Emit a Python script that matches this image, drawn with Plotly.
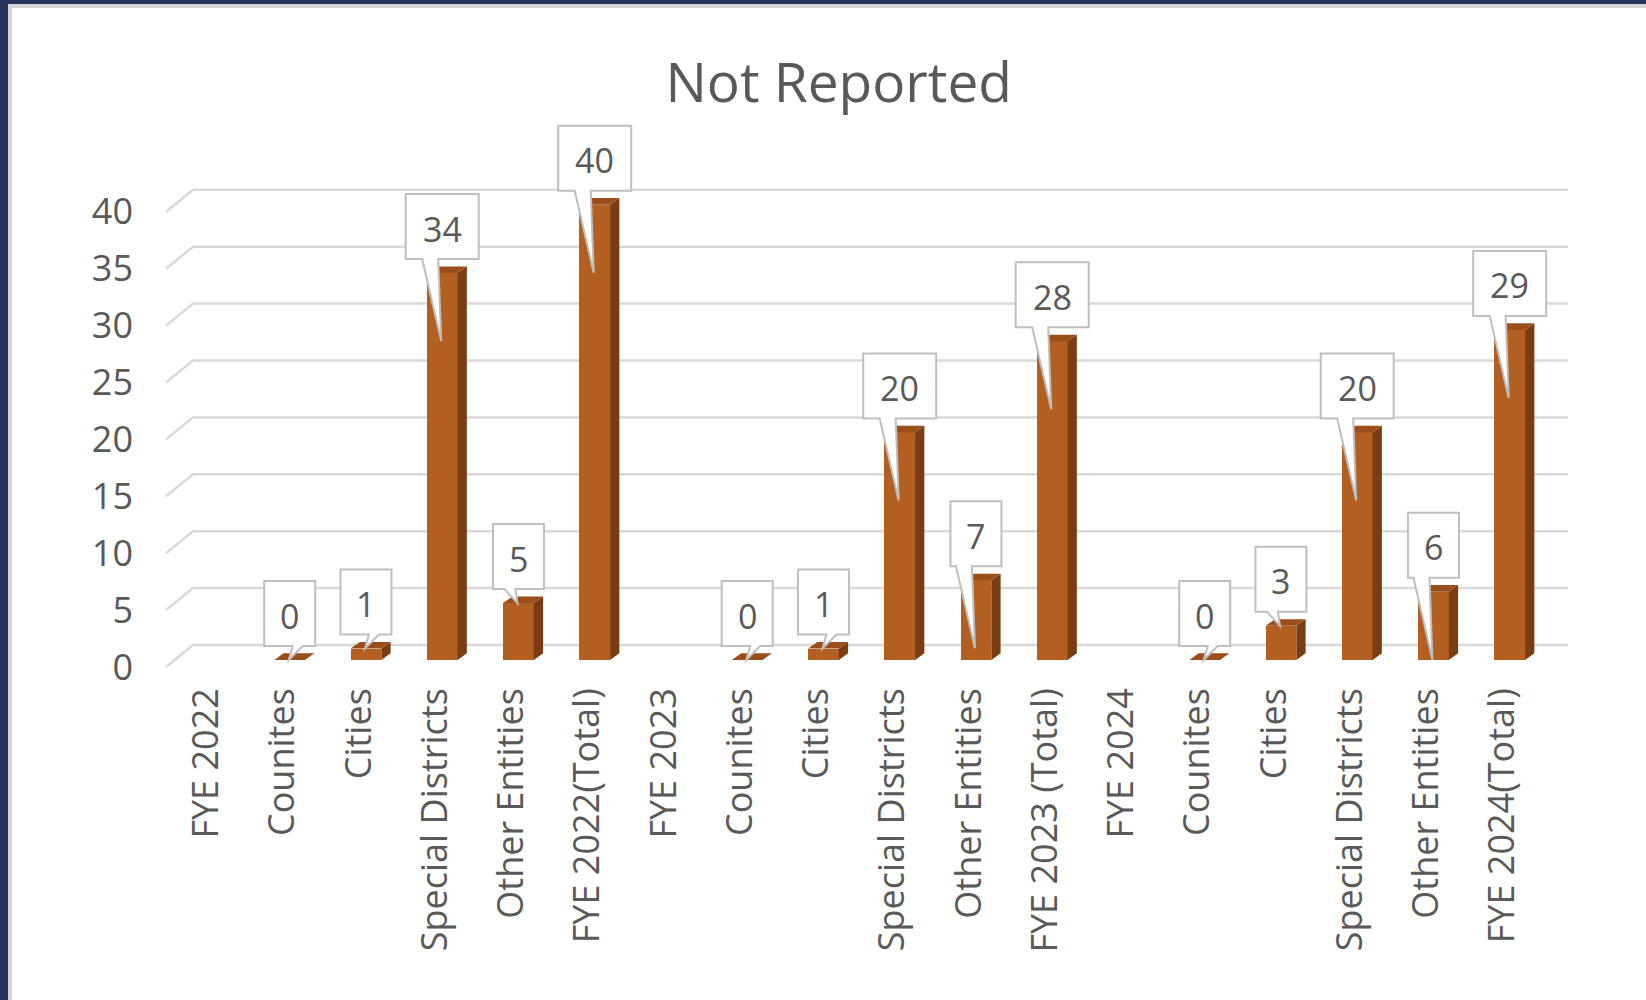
import plotly.graph_objects as go

# ---------------- data ----------------
categories = ["FYE 2022", "Counites", "Cities", "Special Districts", "Other Entities", "FYE 2022(Total)",
              "FYE 2023", "Counites", "Cities", "Special Districts", "Other Entities", "FYE 2023 (Total)",
              "FYE 2024", "Counites", "Cities", "Special Districts", "Other Entities", "FYE 2024(Total)"]
values = [None, 0, 1, 34, 5, 40,
          None, 0, 1, 20, 7, 28,
          None, 0, 3, 20, 6, 29]
y_ticks = [0, 5, 10, 15, 20, 25, 30, 35, 40]
title_text = "Not Reported"

# ---------------- layout geometry ----------------
W, H = 1646, 1000
ML, MR, MT, MB = 166, 78, 100, 320
PW, PH = W - ML - MR, H - MT - MB
PX_X = 76.25           # pixels per category
PX_Y = 11.38           # pixels per unit
first_center = 213.45  # pixel x of first category
zero_px = 660          # pixel y of value 0 (bar front)
x_lo = -(first_center - ML) / PX_X
x_range = [x_lo, x_lo + PW / PX_X]
y_lo = -(H - MB - zero_px) / PX_Y
y_range = [y_lo, y_lo + PH / PX_Y]

FONT = "Open Sans"
TXT = "#595959"
FRONT = "#B45F22"
TOP = "#9A4E1A"
SIDE = "#7A3D13"
GRID = "#D9D9D9"
CALLOUT_LINE = "#BFBFBF"

bar_w_px = 30.7
hw = bar_w_px / 2
dx, dy = 9.3, 6.7

xs = list(range(len(categories)))

fig = go.Figure()
fig.add_trace(go.Bar(x=xs, y=values, width=bar_w_px / PX_X,
                     marker=dict(color=FRONT, line=dict(width=0)),
                     hoverinfo="skip", showlegend=False))

shapes = []
# white panel with light border over the dark background
def px2paper_x(p):
    return (p - ML) / PW
def px2paper_y(p):
    return (H - MB - p) / PH
shapes.append(dict(type="rect", xref="paper", yref="paper",
                   x0=px2paper_x(10), x1=px2paper_x(1700),
                   y0=px2paper_y(1050), y1=px2paper_y(6),
                   fillcolor="white", line=dict(color="#D4D4D4", width=4), layer="below"))

# 3D-style gridlines (front slant + back line)
for g in y_ticks:
    shapes.append(dict(type="path", xref="paper", xsizemode="pixel", xanchor=0,
                       yref="y", ysizemode="pixel", yanchor=g,
                       path=f"M0,-7 L27,15 L{PW},15",
                       line=dict(color=GRID, width=2.5), layer="below"))

# bar top and side faces
dyd = dy / PX_Y
for i, v in zip(xs, values):
    if v is None:
        continue
    shapes.append(dict(type="path", xref="x", xsizemode="pixel", xanchor=i,
                       yref="y", ysizemode="scaled",
                       path=f"M{hw},0 L{hw+dx},{dyd} L{hw+dx},{v+dyd} L{hw},{v} Z",
                       fillcolor=SIDE, line=dict(width=0), layer="above"))
    shapes.append(dict(type="path", xref="x", xsizemode="pixel", xanchor=i,
                       yref="y", ysizemode="pixel", yanchor=v,
                       path=f"M{-hw},0 L{hw},0 L{hw+dx},{dy} L{-hw+dx},{dy} Z",
                       fillcolor=TOP, line=dict(width=0), layer="above"))

# data callouts
annotations = []
box_gap, box_h = 14, 65
for i, v in zip(xs, values):
    if v is None:
        continue
    w = 73 if v >= 10 else 51
    l, r = -w / 2, w / 2
    b, t = box_gap, box_gap + box_h
    if v >= 6:
        b0, b1, tip = -20, -4, (-1, box_gap - 82)
    elif v <= 1:
        b0, b1, tip = 3, 13, (-1, 0)
    else:
        b0, b1, tip = -14, -3, (-1, 0)
    path = (f"M{l},{b} L{b0},{b} L{tip[0]},{tip[1]} L{b1},{b} L{r},{b} "
            f"L{r},{t} L{l},{t} Z")
    shapes.append(dict(type="path", xref="x", xsizemode="pixel", xanchor=i,
                       yref="y", ysizemode="pixel", yanchor=v, path=path,
                       fillcolor="white", line=dict(color=CALLOUT_LINE, width=2),
                       layer="above"))
    annotations.append(dict(x=i, y=v, xref="x", yref="y", text=str(v), showarrow=False,
                            yshift=box_gap + box_h / 2 - 2,
                            font=dict(family=FONT, size=34, color=TXT)))

fig.update_layout(
    width=W, height=H,
    margin=dict(l=ML, r=MR, t=MT, b=MB, autoexpand=False),
    paper_bgcolor="#27335A",
    plot_bgcolor="white",
    shapes=shapes,
    annotations=annotations,
    bargap=0,
    title=dict(text=title_text, x=838.7 / W, y=1 - 83 / H, xref="container", yref="container",
               xanchor="center", yanchor="middle",
               font=dict(family=FONT, size=55, color=TXT)),
    xaxis=dict(range=x_range, tickmode="array", tickvals=xs, ticktext=categories,
               tickangle=-90, showgrid=False, zeroline=False, showline=False, ticks="",
               tickfont=dict(family=FONT, size=36, color=TXT),
               ticklabelshift=-7, ticklabelstandoff=0, fixedrange=True),
    yaxis=dict(range=y_range, tickmode="array", tickvals=y_ticks,
               ticktext=[str(t) for t in y_ticks],
               showgrid=False, zeroline=False, showline=False, ticks="",
               tickfont=dict(family=FONT, size=36, color=TXT),
               ticklabelshift=7, ticklabelstandoff=32, fixedrange=True),
    showlegend=False,
)

fig.write_html("out.html", config={"displayModeBar": False},
               post_script="document.body.style.margin='0';document.body.style.overflow='hidden';")
